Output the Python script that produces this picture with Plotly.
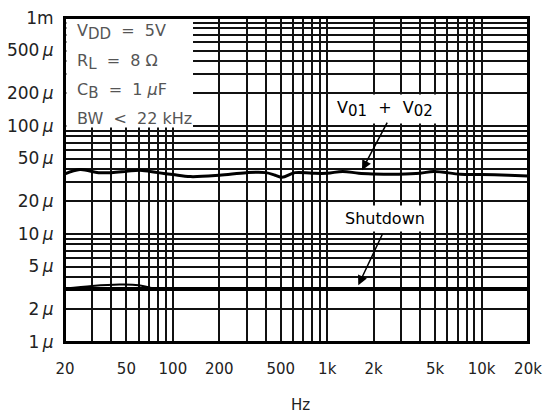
import numpy as np
import plotly.graph_objects as go

# V01 + V02 noise (V) vs frequency (Hz)
freq_v = [20, 25, 33, 40, 50, 61, 80, 100, 130, 200, 300, 400, 460, 510, 620, 800, 1000, 1260, 1600, 2000, 2900, 4000, 4900, 7300, 10000, 15000, 20000]
noise_v = [36e-6, 39.5e-6, 37e-6, 37e-6, 38e-6, 39e-6, 37e-6, 35.5e-6, 34e-6, 35e-6, 37e-6, 37e-6, 35e-6, 33.5e-6, 37e-6, 36.5e-6, 36.5e-6, 38e-6, 36.5e-6, 36e-6, 35.8e-6, 36.5e-6, 38e-6, 35.7e-6, 35.5e-6, 35e-6, 34.5e-6]

# Shutdown noise
freq_sd = [20, 100, 1000, 20000]
noise_sd = [3.1e-6, 3.1e-6, 3.1e-6, 3.1e-6]
freq_sd2 = [20, 30, 45, 60, 70, 80]
noise_sd2 = [3.12e-6, 3.3e-6, 3.4e-6, 3.36e-6, 3.2e-6, 3.1e-6]

x_ticks = [20, 50, 100, 200, 500, 1000, 2000, 5000, 10000, 20000]
x_labels = ['20', '50', '100', '200', '500', '1k', '2k', '5k', '10k', '20k']
y_ticks = [1e-6, 2e-6, 5e-6, 1e-5, 2e-5, 5e-5, 1e-4, 2e-4, 5e-4, 1e-3]
y_labels = ['1\u2009<i>µ</i>', '2\u2009<i>µ</i>', '5\u2009<i>µ</i>', '10\u2009<i>µ</i>', '20\u2009<i>µ</i>',
            '50\u2009<i>µ</i>', '100\u2009<i>µ</i>', '200\u2009<i>µ</i>', '500\u2009<i>µ</i>', '1m']

# log grid positions (2..9 of each decade)
x_grid = [m * 10 ** e for e in range(1, 5) for m in range(1, 10) if 20 <= m * 10 ** e <= 20000]
y_grid = [m * 10.0 ** e for e in range(-6, -3) for m in range(1, 10)] + [1e-3]

FONT = 'DejaVu Sans'
GRID = '#111111'


def sub(s):
    return '<sub><span style="font-size:15px">' + s + '</span></sub>'


fig = go.Figure()
fig.add_trace(go.Scatter(x=freq_v, y=noise_v, mode='lines', line=dict(color='black', width=3), line_shape='spline'))
fig.add_trace(go.Scatter(x=freq_sd, y=noise_sd, mode='lines', line=dict(color='black', width=4)))
fig.add_trace(go.Scatter(x=freq_sd2, y=noise_sd2, mode='lines', line=dict(color='black', width=2), line_shape='spline'))

fig.update_layout(
    width=546, height=414,
    margin=dict(l=65, r=18, t=18, b=72),
    paper_bgcolor='white', plot_bgcolor='white',
    showlegend=False,
    font=dict(family=FONT, size=16, color='#222'),
)
fig.update_xaxes(
    type='log', range=[np.log10(20), np.log10(20000)], automargin=False,
    tickmode='array', tickvals=x_ticks, ticktext=x_labels, tickfont=dict(size=15),
    showgrid=False, zeroline=False, ticks='', ticklabelstandoff=12, ticklabeloverflow='allow',
    minor=dict(tickmode='array', tickvals=x_grid, showgrid=True, gridcolor=GRID, gridwidth=1.6, ticks=''),
    showline=True, mirror=True, linecolor='black', linewidth=2,
)
fig.update_yaxes(
    type='log', range=[-6, -3], automargin=False,
    tickmode='array', tickvals=y_ticks, ticktext=y_labels, tickfont=dict(size=17),
    showgrid=False, zeroline=False, ticks='', ticklabelstandoff=6, ticklabeloverflow='allow',
    minor=dict(tickmode='array', tickvals=y_grid, showgrid=True, gridcolor=GRID, gridwidth=1.6, ticks=''),
    showline=True, mirror=True, linecolor='black', linewidth=2,
)

# white box behind the conditions text
fig.add_shape(type='rect', xref='paper', yref='paper', x0=0.003, x1=0.2765, y0=0.662, y1=0.997,
              fillcolor='white', line=dict(width=0), layer='above')
fig.add_shape(type='rect', xref='paper', yref='paper', x0=0, x1=1, y0=0, y1=1,
              fillcolor='rgba(0,0,0,0)', line=dict(color='black', width=2), layer='above')

cond = ['V' + sub('DD') + '  =  5V', 'R' + sub('L') + '  =  8 Ω', 'C' + sub('B') + '  =  1 <i>µ</i>F', 'BW  <  22 kHz']
cond_y = [32, 62, 91, 118]
for t, py in zip(cond, cond_y):
    fig.add_annotation(text=t, xref='paper', yref='paper', x=(75 - 65) / 463, y=(342 - py) / 324,
                       xanchor='left', yanchor='middle', showarrow=False,
                       font=dict(family=FONT, size=16, color='#555'))

fig.add_annotation(text='V' + sub('01') + '\u2002\u2009+\u2002\u2009V' + sub('02'), xref='paper', yref='paper',
                   x=(385 - 65) / 463, y=(342 - 109) / 324, xanchor='center', yanchor='middle', showarrow=False,
                   bgcolor='white', borderpad=3, font=dict(family=FONT, size=16, color='black'))
fig.add_annotation(text='Shutdown', xref='paper', yref='paper',
                   x=(385 - 65) / 463, y=(342 - 218) / 324, xanchor='center', yanchor='middle', showarrow=False,
                   bgcolor='white', borderpad=3, font=dict(family=FONT, size=16, color='black'))

# arrows
fig.add_annotation(x=np.log10(1680), y=np.log10(39e-6), text='', showarrow=True,
                   ax=26, ay=-49, arrowhead=2, arrowsize=1.3, arrowwidth=1.5, arrowcolor='black')
fig.add_annotation(x=np.log10(1590), y=np.log10(3.35e-6), text='', showarrow=True,
                   ax=25, ay=-53, arrowhead=2, arrowsize=1.3, arrowwidth=1.5, arrowcolor='black')

fig.add_annotation(text='Hz', xref='paper', yref='paper', x=(300 - 65) / 463, y=(342 - 405) / 324,
                   xanchor='center', yanchor='middle', showarrow=False,
                   font=dict(family=FONT, size=15, color='#222'))

fig.write_html('out.html', config={'displayModeBar': False, 'responsive': False},
               post_script="document.body.style.margin='0';document.body.style.overflow='hidden';")
